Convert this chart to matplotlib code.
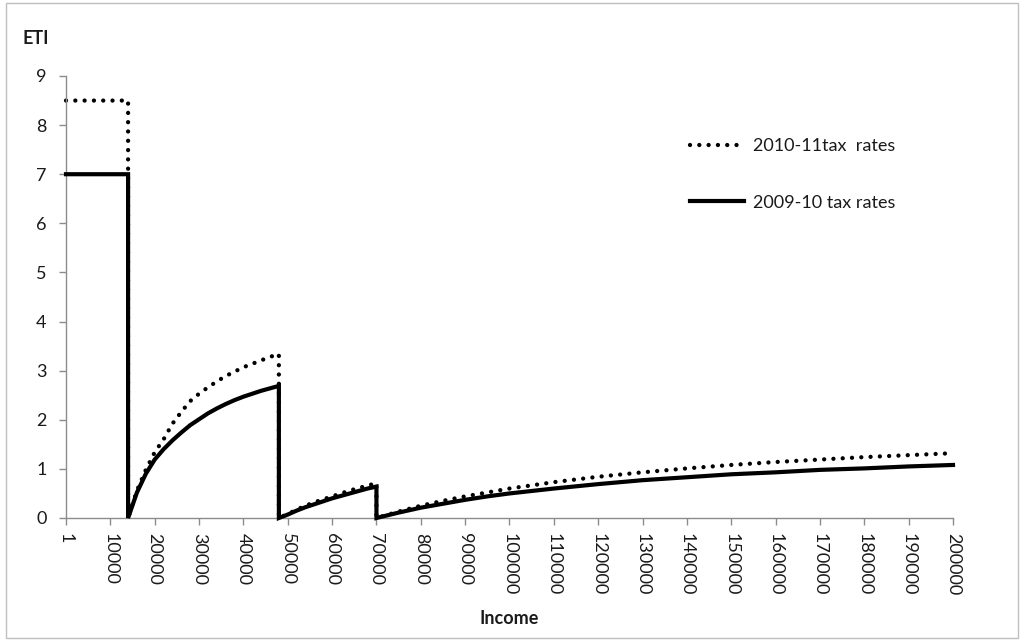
import matplotlib
matplotlib.use("Agg")
import matplotlib.pyplot as plt
from matplotlib.patches import Rectangle

plt.rcParams['font.family'] = ['Lato', 'DejaVu Sans']

# ---- data ----
income = [1, 14000, 14000, 16000, 18000, 20000, 22000, 24000, 26000, 28000,
          30000, 32000, 34000, 36000, 38000, 40000, 42000, 44000, 46000, 48000,
          48000, 50000, 52000, 54000, 56000, 58000, 60000, 62000, 64000, 66000,
          68000, 70000, 70000, 75000, 80000, 85000, 90000, 95000, 100000,
          110000, 120000, 130000, 140000, 150000, 160000, 170000, 180000,
          190000, 200000]

eti_2009_10 = [7.0, 7.0, 0.0, 0.52, 0.90, 1.19, 1.40, 1.58, 1.74, 1.89,
               2.01, 2.13, 2.23, 2.32, 2.40, 2.47, 2.53, 2.59, 2.64, 2.69,
               0.0, 0.07, 0.15, 0.22, 0.28, 0.34, 0.40, 0.45, 0.50, 0.55,
               0.60, 0.64, 0.0, 0.11, 0.21, 0.29, 0.37, 0.44, 0.50,
               0.60, 0.69, 0.77, 0.83, 0.89, 0.93, 0.98, 1.01,
               1.05, 1.08]

eti_2010_11 = [8.5, 8.5, 0.0, 0.56, 0.98, 1.34, 1.60, 1.92, 2.16, 2.38,
               2.53, 2.66, 2.78, 2.89, 2.98, 3.07, 3.14, 3.21, 3.28, 3.34,
               0.0, 0.08, 0.17, 0.25, 0.32, 0.38, 0.44, 0.50, 0.56, 0.61,
               0.66, 0.71, 0.0, 0.13, 0.25, 0.35, 0.44, 0.52, 0.60,
               0.73, 0.84, 0.93, 1.01, 1.08, 1.14, 1.19, 1.24,
               1.28, 1.32]

x_ticks = [1, 10000, 20000, 30000, 40000, 50000, 60000, 70000, 80000, 90000,
           100000, 110000, 120000, 130000, 140000, 150000, 160000, 170000,
           180000, 190000, 200000]
y_ticks = [0, 1, 2, 3, 4, 5, 6, 7, 8, 9]

label_2010 = "2010-11tax  rates"
label_2009 = "2009-10 tax rates"

# ---- figure ----
fig = plt.figure(figsize=(10.22, 6.40), dpi=100)
ax = fig.add_axes([66 / 1022, 1 - 518 / 640, (953 - 66) / 1022, (518 - 76) / 640])

ax.plot(income, eti_2010_11, color='black', linewidth=3.1,
        linestyle=(0, (0.01, 2.15)), dash_capstyle='round',
        clip_on=False, zorder=2, label=label_2010)
ax.plot(income, eti_2009_10, color='black', linewidth=3.0,
        solid_joinstyle='miter', clip_on=False, zorder=3, label=label_2009)

ax.set_xlim(1, 200000)
ax.set_ylim(0, 9)
ax.set_xticks(x_ticks)
ax.set_xticklabels([str(v) for v in x_ticks], rotation=-90)
ax.set_yticks(y_ticks)
ax.set_yticklabels([str(v) for v in y_ticks])

axis_col = '#8c8c8c'
for s in ['top', 'right']:
    ax.spines[s].set_visible(False)
for s in ['left', 'bottom']:
    ax.spines[s].set_color(axis_col)
    ax.spines[s].set_linewidth(1.0)
ax.tick_params(axis='both', direction='out', color=axis_col, width=1.0,
               length=5, labelsize=13, labelcolor='#1a1a1a')
ax.tick_params(axis='x', pad=6)
ax.tick_params(axis='y', pad=9)

fig.text(36 / 1022, 1 - 38.5 / 640, "ETI", fontsize=13, fontweight='bold',
         ha='center', va='center', color='#1a1a1a')
fig.text(509 / 1022, 1 - 618 / 640, "Income", fontsize=13, fontweight='bold',
         ha='center', va='center', color='#1a1a1a')

leg = ax.legend(loc='upper left', bbox_to_anchor=(690 / 1022, 1 - 138 / 640),
                bbox_transform=fig.transFigure, frameon=False, fontsize=13,
                handlelength=3.0, handletextpad=0.5, labelspacing=2.25,
                borderpad=0, borderaxespad=0)
for t in leg.get_texts():
    t.set_color('#1a1a1a')

fig.patches.append(Rectangle((6 / 1022, 1 - 638 / 640), (1018 - 6) / 1022,
                             (638 - 3) / 640, transform=fig.transFigure,
                             fill=False, edgecolor='#bfbfbf', linewidth=1.0))

fig.savefig("out.png", dpi=100)
